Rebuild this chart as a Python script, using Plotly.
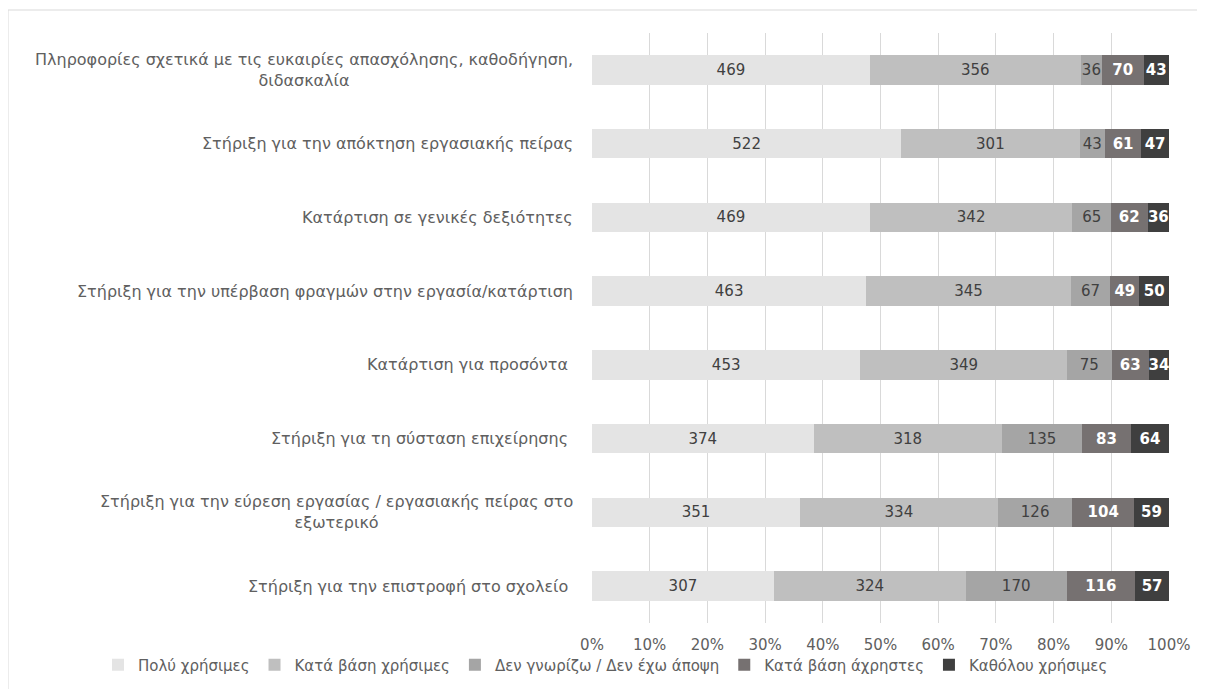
import plotly.graph_objects as go

categories = [
    "Πληροφορίες σχετικά με τις ευκαιρίες απασχόλησης, καθοδήγηση,<br>διδασκαλία",
    "Στήριξη για την απόκτηση εργασιακής πείρας",
    "Κατάρτιση σε γενικές δεξιότητες",
    "Στήριξη για την υπέρβαση φραγμών στην εργασία/κατάρτιση",
    "Κατάρτιση για προσόντα ",
    "Στήριξη για τη σύσταση επιχείρησης ",
    "Στήριξη για την εύρεση εργασίας / εργασιακής πείρας στο<br>εξωτερικό",
    "Στήριξη για την επιστροφή στο σχολείο ",
]

series_names = [
    "Πολύ χρήσιμες",
    "Κατά βάση χρήσιμες",
    "Δεν γνωρίζω / Δεν έχω άποψη",
    "Κατά βάση άχρηστες",
    "Καθόλου χρήσιμες",
]

poly_xrisimes = [469, 522, 469, 463, 453, 374, 351, 307]
kata_vasi_xrisimes = [356, 301, 342, 345, 349, 318, 334, 324]
den_gnorizo = [36, 43, 65, 67, 75, 135, 126, 170]
kata_vasi_axristes = [70, 61, 62, 49, 63, 83, 104, 116]
katholou_xrisimes = [43, 47, 36, 50, 34, 64, 59, 57]

tick_vals = [0, 10, 20, 30, 40, 50, 60, 70, 80, 90, 100]
tick_text = ["0%", "10%", "20%", "30%", "40%", "50%", "60%", "70%", "80%", "90%", "100%"]

series_values = [poly_xrisimes, kata_vasi_xrisimes, den_gnorizo, kata_vasi_axristes, katholou_xrisimes]
colors = ["#E4E4E4", "#BFBFBF", "#A5A5A5", "#767171", "#3F3F3F"]
text_colors = ["#404040", "#404040", "#404040", "#FFFFFF", "#FFFFFF"]
text_bold = [False, False, False, True, True]

FONT = "DejaVu Sans"
OFF = 8  # page body margin
W, H = 1205 - OFF, 689 - OFF
L, R, T, B = 592 - OFF, 1169 - OFF, 33 - OFF, 623 - OFF

def px(p):
    return (p - OFF - L) / (R - L)

def py(q):
    return (B - (q - OFF)) / (B - T)

fig = go.Figure()
for name, vals, col, tcol, bold in zip(series_names, series_values, colors, text_colors, text_bold):
    fig.add_trace(go.Bar(
        y=categories, x=vals, name=name, orientation="h",
        marker=dict(color=col, line=dict(width=0)),
        text=vals, texttemplate="%{text}", textposition="inside", textangle=0,
        insidetextanchor="middle", constraintext="none",
        textfont=dict(color=tcol, size=15, family=FONT, weight="bold" if bold else "normal"),
        hoverinfo="skip",
    ))

for c in categories:
    fig.add_annotation(
        x=px(575), xref="paper", y=c, yref="y", text=c, showarrow=False,
        xanchor="right", yanchor="middle", align="center",
        font=dict(family=FONT, size=16, color="#606060"),
    )

fig.add_shape(type="rect", xref="paper", yref="paper",
              x0=px(8), x1=px(1230), y0=py(720), y1=py(10),
              line=dict(color="#D9D9D9", width=1), fillcolor="rgba(0,0,0,0)", layer="below")

fig.update_layout(
    width=W, height=H,
    barmode="stack", barnorm="percent", bargap=0.6,
    margin=dict(l=L, r=W - R, t=T, b=H - B, pad=0, autoexpand=False),
    paper_bgcolor="white", plot_bgcolor="white",
    font=dict(family=FONT, size=15, color="#606060"),
    uniformtext=dict(minsize=13, mode="show"),
    xaxis=dict(range=[0, 100], tickvals=tick_vals, ticktext=tick_text,
               showgrid=True, gridcolor="#D9D9D9", gridwidth=1, zeroline=False,
               showline=False, ticks="", ticklabelstandoff=11,
               tickfont=dict(family=FONT, size=15, color="#606060"), fixedrange=True),
    yaxis=dict(autorange="reversed", showticklabels=False, showgrid=False,
               zeroline=False, showline=False, ticks=""),
    legend=dict(orientation="h", x=px(98), xanchor="left", y=py(665), yanchor="middle",
                font=dict(family=FONT, size=15, color="#606060"), traceorder="normal",
                itemwidth=30, bgcolor="rgba(0,0,0,0)"),
    showlegend=True,
)

fig.write_html("out.html")
